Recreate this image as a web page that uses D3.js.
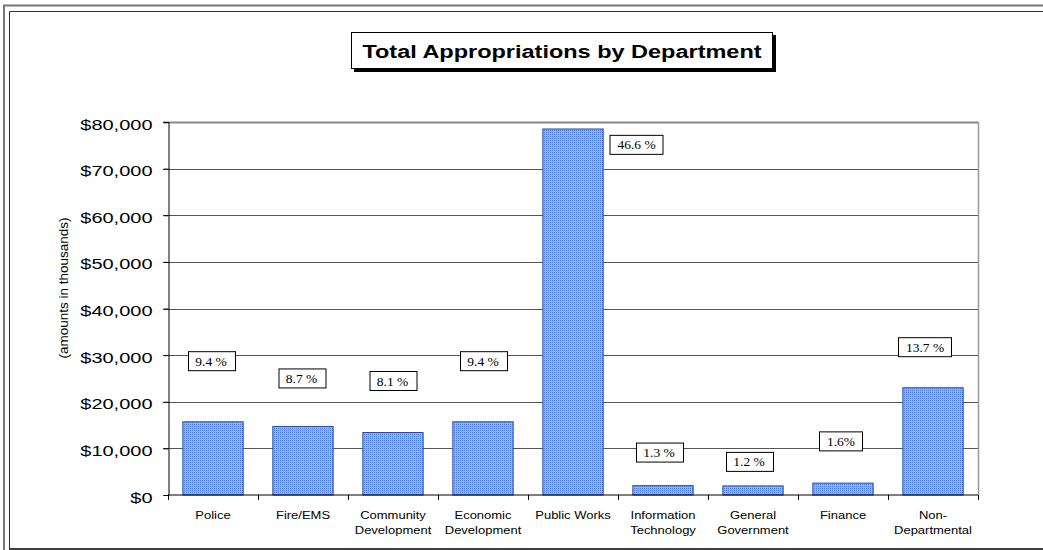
<!DOCTYPE html>
<html>
<head>
<meta charset="utf-8">
<script src="https://cdn.jsdelivr.net/npm/d3@7"></script>
<style>
  body { margin: 0; background: #fff; }
  svg { display: block; }
  text { font-family: "Liberation Sans", Arial, sans-serif; fill: #000; }
  .pct { font-family: "Liberation Serif", "Times New Roman", serif; font-size: 13.5px; }
</style>
</head>
<body>
<div id="chart"></div>
<script>
// data
var departments = ["Police", "Fire/EMS", "Community\nDevelopment", "Economic\nDevelopment", "Public Works",
  "Information\nTechnology", "General\nGovernment", "Finance", "Non-\nDepartmental"]
var amounts = [15700, 14700, 13400, 15700, 78500, 2000, 1950, 2550, 23000]
var shares = ["9.4 %", "8.7 %", "8.1 %", "9.4 %", "46.6 %", "1.3 %", "1.2 %", "1.6%", "13.7 %"]
var yTicks = [0, 10000, 20000, 30000, 40000, 50000, 60000, 70000, 80000]

// where the hand-placed % boxes sit (value level, px shift from band centre)
var labelLevel = [28700, 25000, 24450, 28700, 75100, 9100, 7100, 11500, 31700]
var labelShift = [-2, -1.5, -0.5, 0, 63.5, -4, -4, -2, -8]

var width = 1043, height = 550
var margin = { top: 122, right: 65, bottom: 55, left: 168 }

var svg = d3.select("#chart")
  .append("svg")
  .attr("width", width)
  .attr("height", height)

// stipple fill for the bars
var pat = svg.append("defs").append("pattern")
  .attr("id", "dots")
  .attr("width", 2).attr("height", 2)
  .attr("patternUnits", "userSpaceOnUse")
pat.append("rect").attr("width", 2).attr("height", 2).attr("fill", "#8db5ff")
pat.append("rect").attr("width", 1).attr("height", 1).attr("fill", "#4a7cf0")

// outer frames
svg.append("path")
  .attr("d", "M4,550 V5.5 H1043")
  .attr("fill", "none").attr("stroke", "#777").attr("stroke-width", 2)
svg.append("path")
  .attr("d", "M9.5,550 V11.5 H1043")
  .attr("fill", "none").attr("stroke", "#333").attr("stroke-width", 1)
svg.append("line")
  .attr("x1", 10).attr("x2", 1043).attr("y1", 549).attr("y2", 549)
  .attr("stroke", "#000").attr("stroke-width", 1.5)

var yScale = d3.scaleLinear()
  .domain([0, 80000])
  .range([height - margin.bottom, margin.top])

var xScale = d3.scaleBand()
  .domain(departments)
  .range([margin.left, width - margin.right])
  .paddingInner(0.33)
  .paddingOuter(0.165)

// grid
svg.append("g")
  .attr("class", "grid")
  .selectAll("line")
  .data(yTicks.slice(1))
  .enter()
  .append("line")
  .attr("x1", margin.left - 5)
  .attr("x2", width - margin.right)
  .attr("y1", d => Math.round(yScale(d)) + 0.5)
  .attr("y2", d => Math.round(yScale(d)) + 0.5)
  .attr("stroke", d => d === 80000 ? "#888" : "#555")
  .attr("stroke-width", d => d === 80000 ? 2 : 1)

// right border of plot
svg.append("line")
  .attr("x1", width - margin.right + 0.5).attr("x2", width - margin.right + 0.5)
  .attr("y1", margin.top).attr("y2", height - margin.bottom)
  .attr("stroke", "#999").attr("stroke-width", 1.5)

// bars
svg.selectAll("rect.bar")
  .data(amounts)
  .enter()
  .append("rect")
  .attr("class", "bar")
  .attr("x", (d, i) => xScale(departments[i]))
  .attr("width", xScale.bandwidth())
  .attr("y", d => yScale(d))
  .attr("height", d => yScale(0) - yScale(d))
  .attr("fill", "url(#dots)")
  .attr("stroke", "#2a4a9a")
  .attr("stroke-width", 1)

// y axis
var yAxis = d3.axisLeft(yScale)
  .tickValues(yTicks)
  .tickSize(5)
  .tickFormat(d => "$" + d3.format(",")(d))

var gy = svg.append("g")
  .attr("transform", `translate(${margin.left + 0.5},0)`)
  .call(yAxis)
gy.select(".domain").attr("stroke", "#000")
gy.selectAll(".tick line").attr("stroke", "#000")
gy.selectAll(".tick text")
  .attr("x", -16)
  .attr("dy", 0)
  .attr("y", 10)
  .attr("transform", "scale(1,0.7)")
  .style("font-size", "20px")
  .attr("fill", "#000")

// x axis line + boundary ticks
var step = xScale.step()
var x0 = xScale.range()[0]
var gx = svg.append("g")
  .attr("transform", `translate(0,${yScale(0)})`)
gx.append("line")
  .attr("x1", margin.left).attr("x2", width - margin.right)
  .attr("stroke", "#000")
gx.selectAll("line.tick")
  .data(d3.range(departments.length + 1))
  .enter()
  .append("line")
  .attr("class", "tick")
  .attr("x1", i => x0 + i * step + 0.5)
  .attr("x2", i => x0 + i * step + 0.5)
  .attr("y1", 0).attr("y2", 5)
  .attr("stroke", "#000")

// category labels
svg.selectAll("g.cat")
  .data(departments)
  .enter()
  .append("g")
  .attr("class", "cat")
  .attr("transform", d => `translate(${xScale(d) + xScale.bandwidth() / 2},518.5) scale(1,0.85)`)
  .each(function(d) {
    var t = d3.select(this).append("text")
      .attr("text-anchor", "middle")
      .style("font-size", "13px")
    d.split("\n").forEach((line, k) => {
      t.append("tspan").attr("x", 0).attr("y", k * 16 / 0.85).text(line)
    })
  })

// percent boxes
var boxes = svg.selectAll("g.pctbox")
  .data(shares)
  .enter()
  .append("g")
  .attr("class", "pctbox")
  .attr("transform", (d, i) => `translate(${xScale(departments[i]) + xScale.bandwidth() / 2 + labelShift[i]},${yScale(labelLevel[i])})`)
var rects = boxes.append("rect")
  .attr("fill", "#fff")
  .attr("stroke", "#000")
  .attr("stroke-width", 1)
var texts = boxes.append("text")
  .attr("class", "pct")
  .attr("text-anchor", "middle")
  .attr("y", 4.5)
  .text(d => d)
texts.each(function(d, i) {
  var w = this.getComputedTextLength() + 15
  d3.select(rects.nodes()[i])
    .attr("x", Math.round(-w / 2) + 0.5)
    .attr("y", -9.5)
    .attr("width", Math.round(w))
    .attr("height", 19)
})

// y axis title
svg.append("text")
  .attr("transform", "translate(63,288) rotate(-90)")
  .attr("text-anchor", "middle")
  .attr("dominant-baseline", "central")
  .style("font-size", "13.5px")
  .text("(amounts in thousands)")

// chart title box
var title = svg.append("g")
title.append("rect")
  .attr("x", 354).attr("y", 35).attr("width", 422).attr("height", 37)
  .attr("fill", "#000")
title.append("rect")
  .attr("x", 351.5).attr("y", 32.5).attr("width", 421).attr("height", 36)
  .attr("fill", "#fff").attr("stroke", "#000")
title.append("g")
  .attr("transform", "translate(562,58) scale(1,0.82)")
  .append("text")
  .attr("text-anchor", "middle")
  .style("font-size", "23.5px")
  .style("font-weight", "bold")
  .text("Total Appropriations by Department")
</script>
</body>
</html>
